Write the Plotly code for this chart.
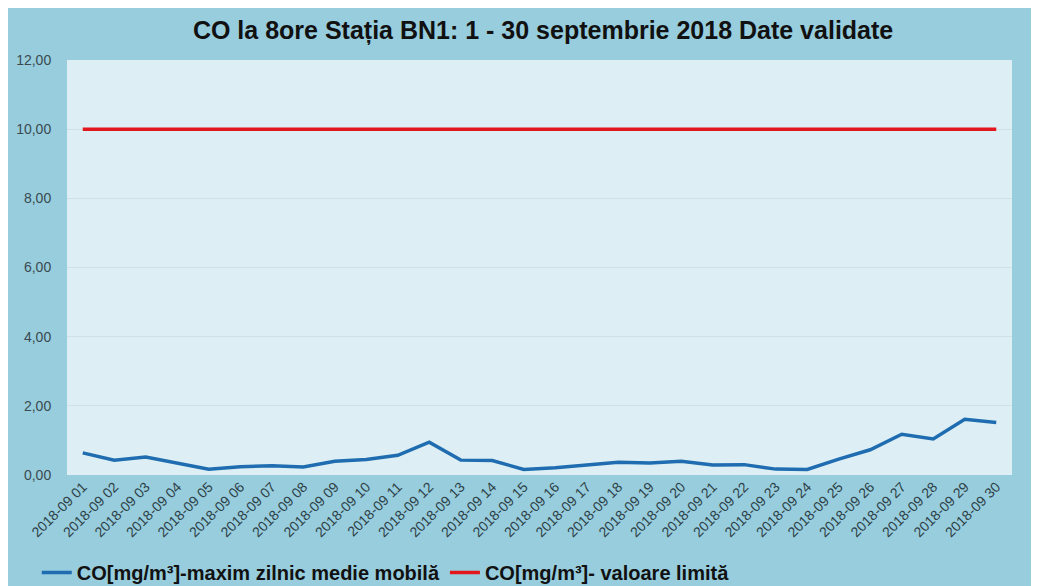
import plotly.graph_objects as go

dates = [f"2018-09 {d:02d}" for d in range(1, 31)]
co_max = [0.64, 0.43, 0.52, 0.35, 0.17, 0.24, 0.27, 0.23, 0.40, 0.45,
          0.57, 0.95, 0.43, 0.42, 0.16, 0.21, 0.29, 0.37, 0.35, 0.40,
          0.29, 0.30, 0.17, 0.16, 0.46, 0.73, 1.18, 1.04, 1.61, 1.52]
limit = [10.0] * 30
y_ticks = [0, 2, 4, 6, 8, 10, 12]
y_labels = ["0,00", "2,00", "4,00", "6,00", "8,00", "10,00", "12,00"]

FONT = "Liberation Sans, Arial"

fig = go.Figure()
fig.add_trace(go.Scatter(x=dates, y=co_max, mode="lines",
                         name="<b>CO[mg/m³]-maxim zilnic medie mobilă</b>",
                         line=dict(color="#1f6db0", width=3.5)))
fig.add_trace(go.Scatter(x=dates, y=limit, mode="lines",
                         name="<b>CO[mg/m³]- valoare limită</b>",
                         line=dict(color="#e3181c", width=3.5)))

fig.update_layout(
    width=1039, height=586,
    paper_bgcolor="#97cddd",
    plot_bgcolor="#ddeff4",
    margin=dict(l=59, r=35, t=52, b=119, autoexpand=False),
    title=dict(text="<b>CO la 8ore Stația BN1: 1 - 30 septembrie 2018 Date validate</b>",
               x=0.515, xanchor="center", y=0.962, yanchor="middle",
               font=dict(family=FONT, size=25, color="#111111")),
    xaxis=dict(type="category", tickangle=-45, range=[-0.5, 29.5],
               showgrid=False, showline=False, ticks="", automargin=False,
               tickfont=dict(family=FONT, size=14, color="#2e3f46")),
    yaxis=dict(range=[0, 12], tickvals=y_ticks, ticktext=y_labels, automargin=False,
               showgrid=True, gridcolor="#cde1e7", gridwidth=1, zeroline=False,
               ticks="outside", ticklen=12, tickcolor="rgba(0,0,0,0)",
               tickfont=dict(family=FONT, size=14, color="#3a4a50")),
    legend=dict(orientation="h", x=-0.032, xanchor="left", y=-0.235, yanchor="middle",
                bgcolor="rgba(0,0,0,0)", itemwidth=30,
                font=dict(family=FONT, size=20, color="#111111")),
    showlegend=True,
)

fig.write_html("out.html")
